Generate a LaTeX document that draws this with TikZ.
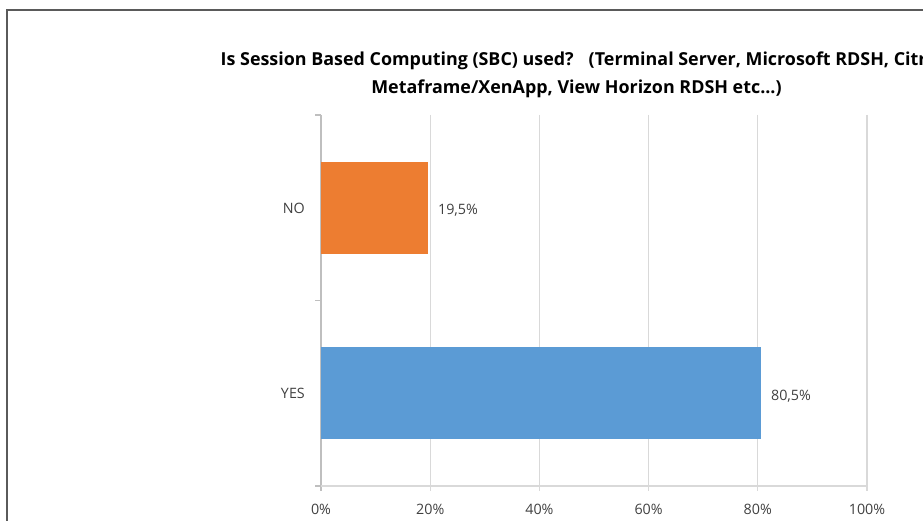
\documentclass[tikz,border=0pt]{standalone}
\usepackage{fontspec}
\setmainfont{Open Sans}
\usetikzlibrary{positioning}
\definecolor{barblue}{HTML}{5B9BD5}
\definecolor{barorange}{HTML}{ED7D31}
\definecolor{gridgray}{HTML}{D9D9D9}
\definecolor{axisgray}{HTML}{BFBFBF}
\definecolor{labelgray}{HTML}{404040}
\definecolor{framegray}{HTML}{5A5A5A}

\begin{document}
\begin{tikzpicture}[x=1pt,y=-1pt,
		lbl/.style={inner sep=0, text=labelgray, font=\fontsize{14.3}{17}\selectfont},
		ttl/.style={inner sep=0, text=black, font=\fontsize{17.9}{21}\selectfont\bfseries},
		bar/.style={inner sep=0, minimum height=92pt, anchor=west}]
	\useasboundingbox (0,0) rectangle (923,521);
	\clip (0,0) rectangle (923,521);
	\draw[framegray, line width=1.3pt] (7,10) rectangle (940,540); % cornice

	% titolo
	\node[ttl, anchor=base west] (title1) at (220.5,66) {Is Session Based Computing (SBC) used?\hspace{15pt}(Terminal Server, Microsoft RDSH, Citrix};
	\node[ttl, anchor=base] (title2) at (576.5,94) {Metaframe/XenApp, View Horizon RDSH etc...)};

	% griglia e assi
	\foreach \p in {20,40,60,80,100}
		\draw[gridgray, line width=1.2pt] ({321+5.46*\p},115) -- ({321+5.46*\p},491);
	\draw[axisgray, line width=1.2pt] (321,115) -- (321,491); % asse y
	\draw[gridgray, line width=1.2pt] (315,486) -- (867,486); % asse x
	\foreach \y in {115,300.5,486}
		\draw[axisgray, line width=1.2pt] (315,\y) -- (321,\y);
	\foreach \p in {0,20,40,60,80,100}
		\node[lbl, anchor=base] (tick\p) at ({321+5.46*\p},514) {\p\%};

	% barre
	\node[bar, fill=barorange, minimum width=106.5pt] (no) at (321,208) {};
	\node[bar, fill=barblue, minimum width=439.5pt] (yes) at (321,393) {};

	\node[lbl, anchor=east] (nolabel) at (305,208) {NO};
	\node[lbl, anchor=east] (yeslabel) at (305,393) {YES};
	\node[lbl, anchor=base west] (noval) at ([xshift=10pt, yshift=-7pt]no.east) {19,5\%};
	\node[lbl, anchor=base west] (yesval) at ([xshift=10pt, yshift=-7pt]yes.east) {80,5\%};
\end{tikzpicture}
\end{document}
